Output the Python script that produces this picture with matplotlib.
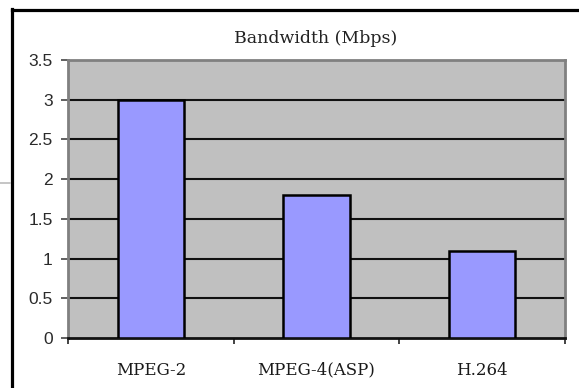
import matplotlib
matplotlib.use("Agg")
import matplotlib.pyplot as plt
from matplotlib.lines import Line2D

codecs = ["MPEG-2", "MPEG-4(ASP)", "H.264"]
bandwidth = [3.0, 1.8, 1.1]
y_ticks = [0, 0.5, 1, 1.5, 2, 2.5, 3, 3.5]
y_tick_labels = ["0", "0.5", "1", "1.5", "2", "2.5", "3", "3.5"]
title = "Bandwidth (Mbps)"

fig = plt.figure(figsize=(5.79, 3.88), dpi=100)
fig.patch.set_facecolor("white")

W, H = 579, 388
ax = fig.add_axes([68 / W, 50 / H, (565 - 68) / W, (338 - 60) / H])
ax.set_facecolor("#c0c0c0")

x = list(range(len(codecs)))
ax.bar(x, bandwidth, width=0.4, color="#9999ff", edgecolor="black",
       linewidth=1.8, zorder=3)

ax.set_xlim(-0.5, len(codecs) - 0.5)
ax.set_ylim(0, 3.5)
ax.set_yticks(y_ticks)
ax.set_yticklabels(y_tick_labels, fontfamily="Liberation Sans", fontsize=12.5,
                   color="#2a2a2a")
for v in y_ticks[1:-1]:
    ax.axhline(v, color="#111111", linewidth=1.5, zorder=1)

# category labels sit between the boundary ticks
ax.set_xticks([i - 0.5 for i in range(len(codecs) + 1)])
ax.set_xticklabels([])
ax.set_xticks(x, minor=True)
ax.set_xticklabels(codecs, minor=True, fontfamily="DejaVu Serif",
                   fontsize=12, color="#1a1a1a")
ax.tick_params(axis="x", which="minor", length=0, pad=17)
ax.tick_params(axis="x", which="major", length=4, width=1.2, color="#222222")
ax.tick_params(axis="y", length=5, width=1.2, color="#444444", pad=6)

for side in ("left", "right", "top"):
    ax.spines[side].set_color("#808080")
    ax.spines[side].set_linewidth(2)
ax.spines["bottom"].set_color("#111111")
ax.spines["bottom"].set_linewidth(2)

fig.text(316 / W, 1 - 43 / H, title, ha="center", va="baseline",
         fontfamily="DejaVu Serif", fontsize=12.5, color="#222222")

# enclosing frame
fig.add_artist(Line2D([12 / W, 12 / W], [0, 1 - 9 / H], color="black",
                      linewidth=2.3, transform=fig.transFigure))
fig.add_artist(Line2D([12 / W, 1], [1 - 9.5 / H, 1 - 9.5 / H], color="black",
                      linewidth=2.3, transform=fig.transFigure))
fig.add_artist(Line2D([0, 10 / W], [1 - 183 / H, 1 - 183 / H], color="#bbbbbb",
                      linewidth=1.2, transform=fig.transFigure))

fig.savefig("out.png", dpi=100)
